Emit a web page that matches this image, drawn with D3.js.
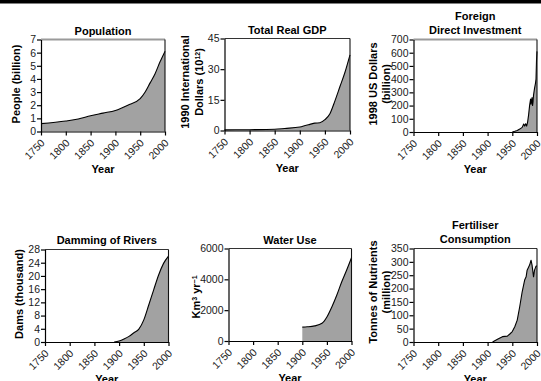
<!DOCTYPE html>
<html>
<head>
<meta charset="utf-8">
<script src="https://cdn.jsdelivr.net/npm/d3@7"></script>
<style>
  html, body { margin: 0; padding: 0; background: #fff; }
  svg { display: block; font-family: "Liberation Sans", Arial, Helvetica, sans-serif; }
  .tick text { fill: #1a1a1a; }
</style>
</head>
<body>
<svg id="chart" width="541" height="381"></svg>
<script>
// ---- data -------------------------------------------------------------
const yearTicks = [1750, 1800, 1850, 1900, 1950, 2000];

const popYears  = [1750, 1800, 1825, 1850, 1875, 1900, 1925, 1950, 1960, 1970, 1980, 1990, 2000];
const popValues = [0.6, 0.8, 0.95, 1.2, 1.4, 1.6, 2.0, 2.5, 3.0, 3.7, 4.4, 5.3, 6.1];
const popTicks  = [0, 1, 2, 3, 4, 5, 6, 7];

const gdpYears  = [1750, 1800, 1850, 1870, 1900, 1913, 1920, 1930, 1940, 1950, 1960, 1970, 1980, 1990, 2000];
const gdpValues = [0.3, 0.4, 0.6, 1.0, 1.7, 2.6, 3.0, 3.6, 3.8, 5.3, 8.2, 14.5, 21.5, 28.5, 37];
const gdpTicks  = [0, 15, 30, 45];

const fdiYears  = [1950, 1955, 1960, 1965, 1970, 1973, 1975, 1977, 1979, 1981, 1983, 1985, 1987, 1988, 1989, 1990, 1991, 1992, 1993, 1995, 1997, 1998, 1999, 2000];
const fdiValues = [0, 5, 12, 22, 35, 60, 45, 62, 45, 75, 130, 200, 250, 210, 240, 260, 200, 230, 280, 330, 370, 400, 540, 610];
const fdiTicks  = [0, 100, 200, 300, 400, 500, 600, 700];

const damYears  = [1890, 1900, 1910, 1920, 1930, 1940, 1950, 1960, 1970, 1980, 1990, 2000];
const damValues = [0, 0.3, 0.9, 1.7, 2.8, 3.9, 6.7, 11.2, 15.8, 20.3, 23.8, 26.0];
const damTicks  = [0, 4, 8, 12, 16, 20, 24, 28];

const waterYears  = [1900, 1910, 1925, 1940, 1950, 1960, 1970, 1980, 1990, 2000];
const waterValues = [900, 920, 980, 1150, 1560, 2210, 2970, 3830, 4590, 5400];
const waterTicks  = [0, 2000, 4000, 6000];

const fertYears  = [1910, 1920, 1930, 1940, 1945, 1950, 1955, 1960, 1965, 1970, 1975, 1978, 1980, 1985, 1988, 1990, 1993, 1995, 1998, 2000];
const fertValues = [0, 10, 20, 22, 30, 39, 57, 82, 132, 188, 232, 244, 269, 288, 306, 288, 244, 269, 284, 284];
const fertTicks  = [0, 50, 100, 150, 200, 250, 300, 350];

// ---- panel layout -----------------------------------------------------
const panels = [
  { years: popYears, values: popValues, ticks: popTicks, smooth: true,
    left: 41, right: 165, top: 39.5, bottom: 131.5, topStroke: "#9a9a9a", topWidth: 2,
    title: ["Population"], titleY: 34.5,
    ylabel: [["People (billion)"]], ylabelX: [20], ylabelY: 84 },
  { years: gdpYears, values: gdpValues, ticks: gdpTicks, smooth: true,
    left: 224.5, right: 350, top: 38.5, bottom: 130.5, topStroke: "#333", topWidth: 1.2,
    title: ["Total Real GDP"], titleY: 33.5,
    ylabel: [["1990 International"], ["Dollars (10", {sup: "12"}, ")"]], ylabelX: [188.5, 202.5], ylabelY: 82 },
  { years: fdiYears, values: fdiValues, ticks: fdiTicks, smooth: false,
    left: 413.5, right: 537, top: 39.5, bottom: 132, topStroke: "#9a9a9a", topWidth: 2,
    title: ["Foreign", "Direct Investment"], titleY: 20, titleGap: 13.5,
    ylabel: [["1998 US Dollars"], ["(billion)"]], ylabelX: [377, 389.5], ylabelY: 84 },
  { years: damYears, values: damValues, ticks: damTicks, smooth: true,
    left: 45, right: 168.5, top: 249.5, bottom: 342, topStroke: "#333", topWidth: 1.2,
    title: ["Damming of Rivers"], titleY: 243.5,
    ylabel: [["Dams (thousand)"]], ylabelX: [22.5], ylabelY: 294 },
  { years: waterYears, values: waterValues, ticks: waterTicks, smooth: true,
    left: 228.5, right: 351.5, top: 248.5, bottom: 341, topStroke: "#333", topWidth: 1.2,
    title: ["Water Use"], titleY: 243.5,
    ylabel: [["Km", {sup: "3"}, " yr", {sup: "\u22121"}]], ylabelX: [200], ylabelY: 297 },
  { years: fertYears, values: fertValues, ticks: fertTicks, smooth: false,
    left: 413.5, right: 537, top: 248.5, bottom: 342, topStroke: "#333", topWidth: 1.2,
    title: ["Fertiliser", "Consumption"], titleY: 229, titleGap: 13.5,
    ylabel: [["Tonnes of Nutrients"], ["(million)"]], ylabelX: [377, 389.5], ylabelY: 292 }
];

const svg = d3.select("#chart");
svg.append("rect").attr("width", 541).attr("height", 381).attr("fill", "#fff");
// heavy rule across the top of the figure
svg.append("rect").attr("x", 0).attr("y", 0).attr("width", 541).attr("height", 3.5).attr("fill", "#000");

function addRichText(sel, parts) {
  parts.forEach(p => {
    if (typeof p === "string") {
      sel.append("tspan").text(p);
    } else {
      sel.append("tspan").attr("baseline-shift", "super").attr("font-size", "7px").text(p.sup);
    }
  });
}

panels.forEach(p => {
  const g = svg.append("g");
  const x = d3.scaleLinear().domain([1750, 2000]).range([p.left, p.right]);
  const y = d3.scaleLinear().domain([0, d3.max(p.ticks)]).range([p.bottom, p.top]);
  const data = p.years.map((yr, i) => ({ yr, v: p.values[i] }));
  const curve = p.smooth ? d3.curveMonotoneX : d3.curveLinear;

  g.append("path")
    .datum(data)
    .attr("fill", "#a2a2a2")
    .attr("d", d3.area().x(d => x(d.yr)).y0(y(0)).y1(d => y(d.v)).curve(curve));
  g.append("path")
    .datum(data)
    .attr("fill", "none")
    .attr("stroke", "#000")
    .attr("stroke-width", 1.1)
    .attr("stroke-linejoin", "round")
    .attr("d", d3.line().x(d => x(d.yr)).y(d => y(d.v)).curve(curve));

  // frame: top and right edges
  g.append("line").attr("x1", p.left).attr("x2", p.right).attr("y1", p.top).attr("y2", p.top)
    .attr("stroke", p.topStroke).attr("stroke-width", p.topWidth);
  g.append("line").attr("x1", p.right).attr("x2", p.right).attr("y1", p.top).attr("y2", p.bottom)
    .attr("stroke", "#111").attr("stroke-width", 1.1);

  // y axis
  const ya = g.append("g").attr("transform", `translate(${p.left},0)`)
    .call(d3.axisLeft(y).tickValues(p.ticks).tickSize(4).tickSizeOuter(0).tickPadding(1).tickFormat(d3.format("d")));
  ya.selectAll("text").attr("font-size", "10.5px").attr("font-family", null);
  ya.selectAll("line, path").attr("stroke", "#000").attr("stroke-width", 1.2);

  // x axis
  const xa = g.append("g").attr("transform", `translate(0,${p.bottom})`)
    .call(d3.axisBottom(x).tickValues(yearTicks).tickSize(4).tickSizeOuter(0).tickFormat(d3.format("d")));
  xa.selectAll("line, path").attr("stroke", "#000").attr("stroke-width", 1.2);
  xa.selectAll("text")
    .attr("font-size", "10.5px").attr("font-family", null)
    .attr("x", 0).attr("y", 0).attr("dy", 0)
    .attr("text-anchor", "end")
    .attr("transform", "translate(4,12) rotate(-45)");

  // x title
  g.append("text").attr("x", (p.left + p.right) / 2).attr("y", p.bottom + 41)
    .attr("text-anchor", "middle").attr("font-weight", "bold").attr("font-size", "11px").text("Year");

  // panel title
  p.title.forEach((t, i) => {
    g.append("text").attr("x", (p.left + p.right) / 2).attr("y", p.titleY + i * (p.titleGap || 0))
      .attr("text-anchor", "middle").attr("font-weight", "bold").attr("font-size", "11px").text(t);
  });

  // y title (rotated)
  p.ylabel.forEach((parts, i) => {
    const t = g.append("text")
      .attr("transform", `translate(${p.ylabelX[i]},${p.ylabelY}) rotate(-90)`)
      .attr("text-anchor", "middle").attr("font-weight", "bold").attr("font-size", "11px");
    addRichText(t, parts);
  });
});
</script>
</body>
</html>
